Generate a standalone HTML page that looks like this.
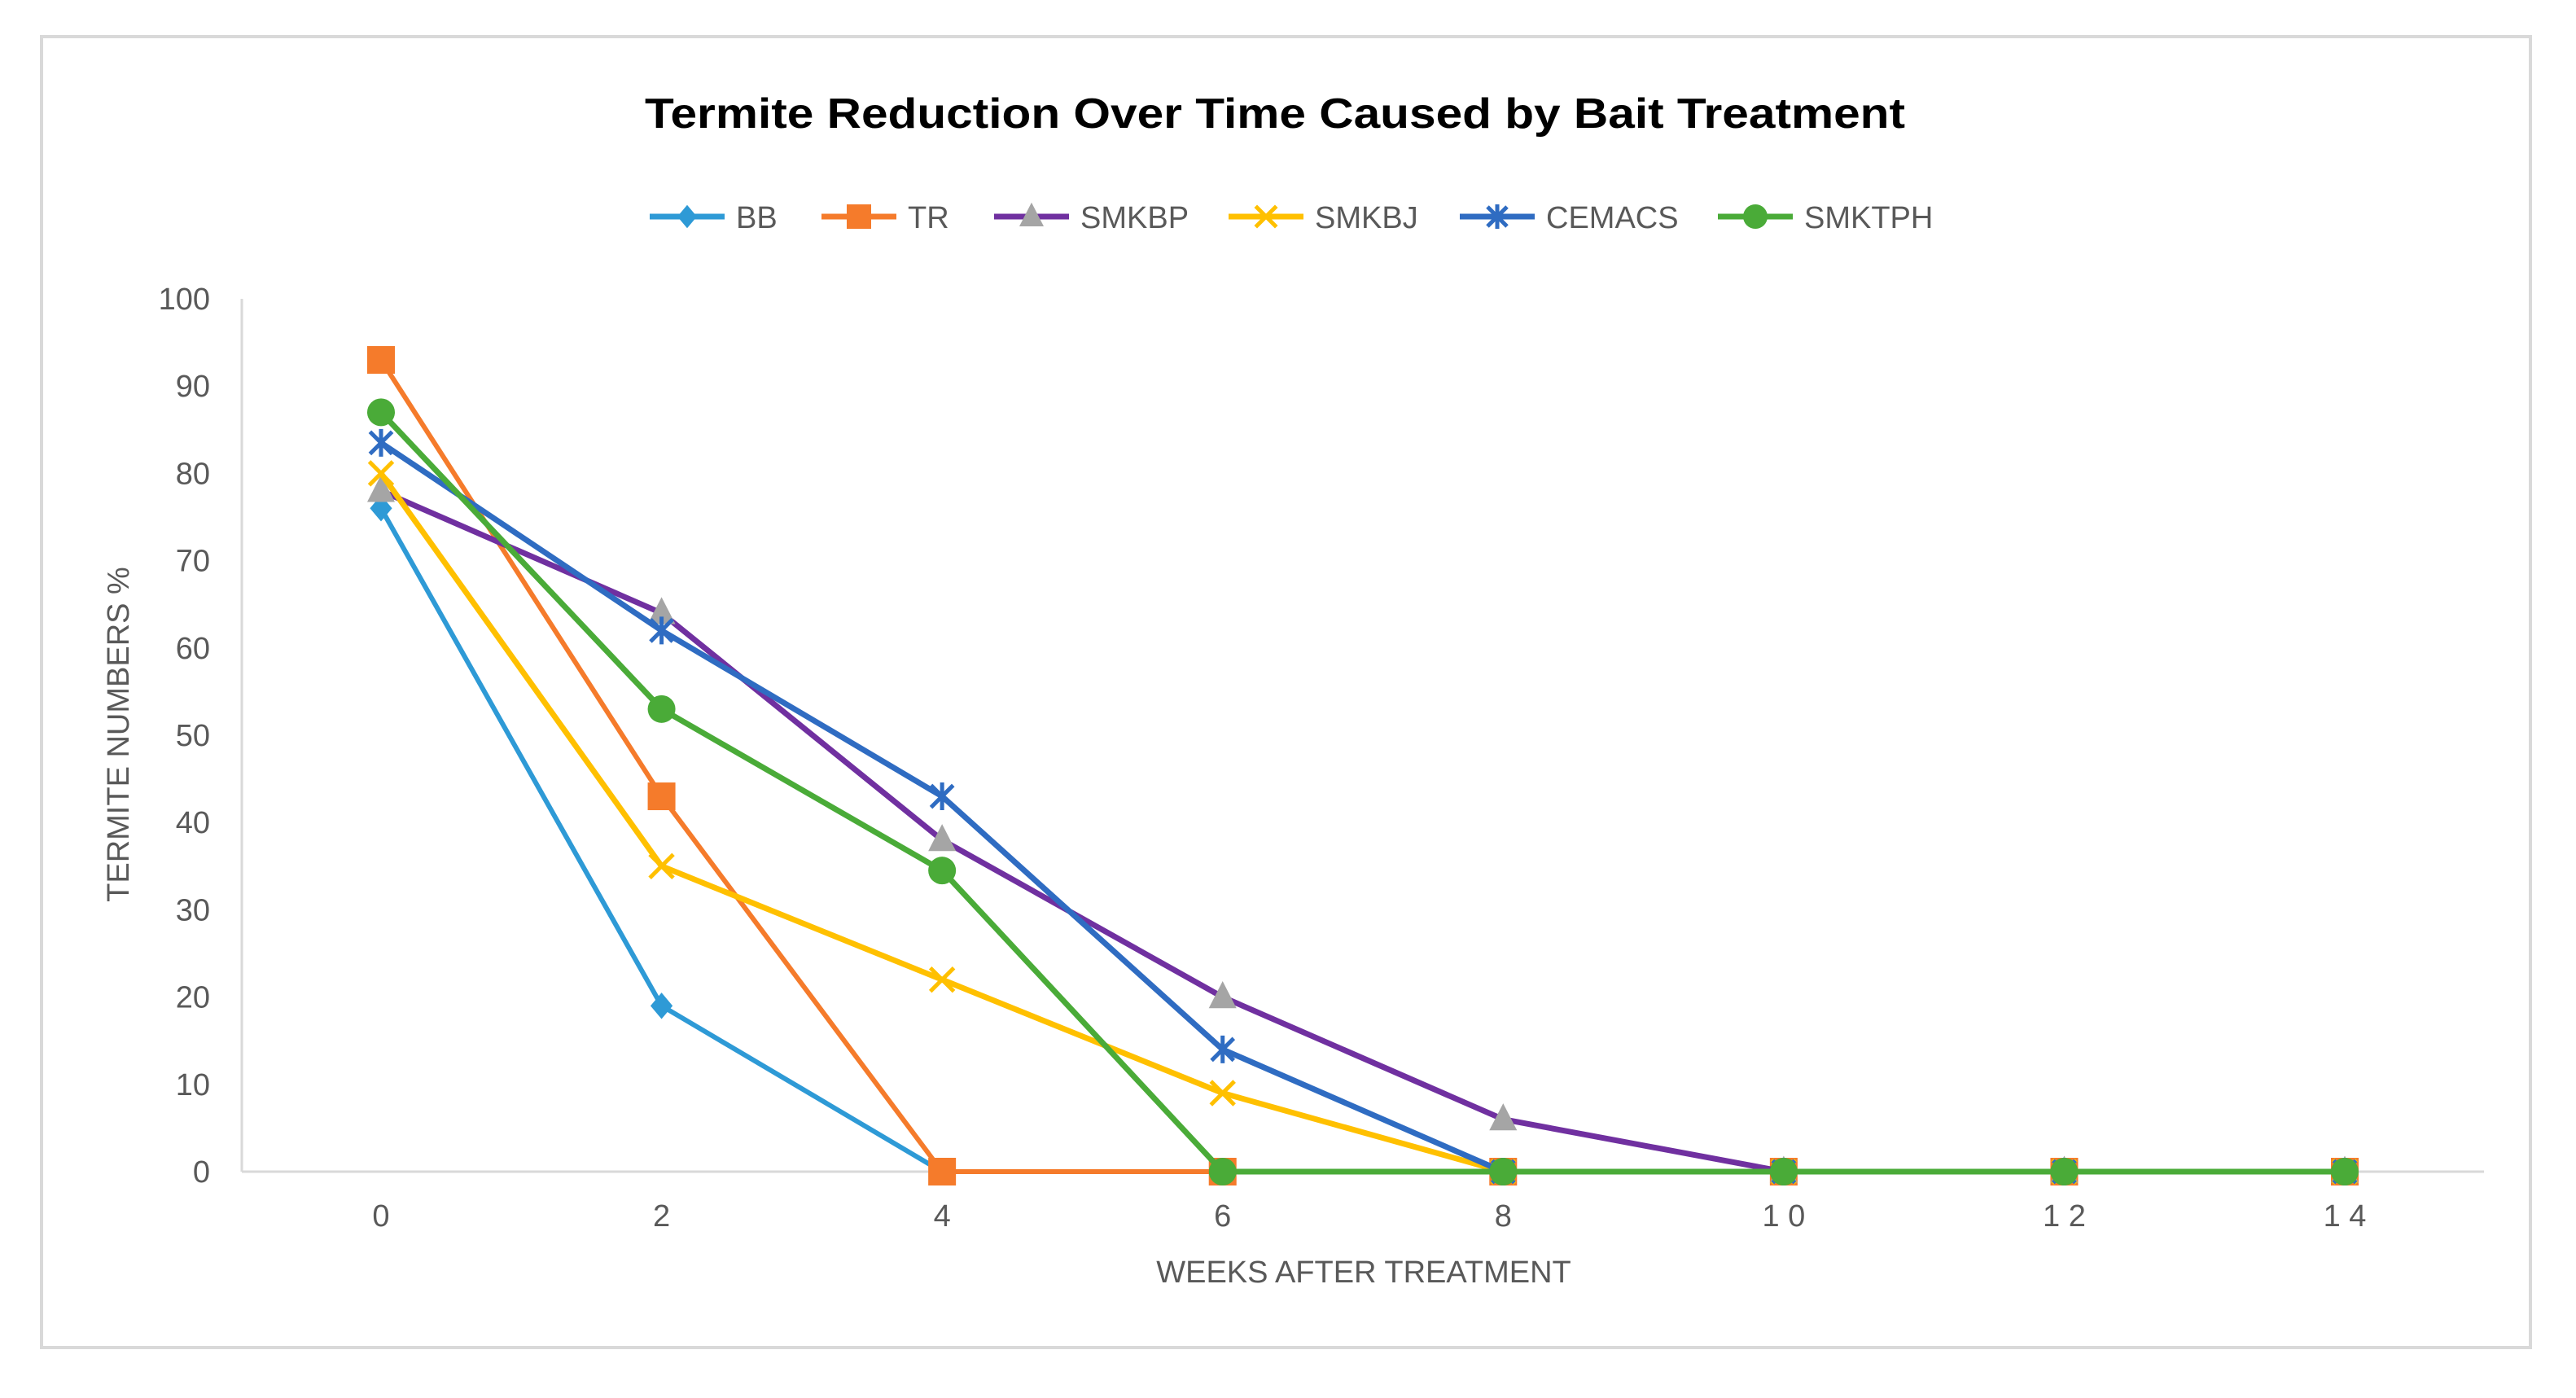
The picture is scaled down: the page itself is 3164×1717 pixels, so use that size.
<!DOCTYPE html>
<html><head><meta charset="utf-8"><style>
html,body{margin:0;padding:0;background:#fff;}
svg{display:block;font-family:"Liberation Sans",sans-serif;}
</style></head><body>
<svg id="chart" width="3164" height="1717" viewBox="0 0 3164 1717">
<rect x="51" y="45" width="3057" height="1610" fill="#fff" stroke="#d9d9d9" stroke-width="4"/>
<text x="1566" y="157" text-anchor="middle" font-size="52" font-weight="bold" fill="#000" textLength="1548" lengthAdjust="spacingAndGlyphs">Termite Reduction Over Time Caused by Bait Treatment</text>
<g id="legend"></g>
<line x1="297" y1="367" x2="297" y2="1439" stroke="#d9d9d9" stroke-width="3"/>
<g id="yticks"></g>
<g id="xticks"></g>
<text transform="translate(158,902) rotate(-90)" text-anchor="middle" font-size="38" fill="#595959">TERMITE NUMBERS %</text>
<text x="1675" y="1575" text-anchor="middle" font-size="38" fill="#595959">WEEKS AFTER TREATMENT</text>
<g id="series"></g>
</svg>
<script>
const weeks = [0, 2, 4, 6, 8, 10, 12, 14];
const yTicks = [0, 10, 20, 30, 40, 50, 60, 70, 80, 90, 100];
const seriesNames = ["BB", "TR", "SMKBP", "SMKBJ", "CEMACS", "SMKTPH"];
const bbValues = [76, 19, 0, 0, 0, 0, 0, 0];
const trValues = [93, 43, 0, 0, 0, 0, 0, 0];
const smkbpValues = [78, 64, 38, 20, 6, 0, 0, 0];
const smkbjValues = [80, 35, 22, 9, 0, 0, 0, 0];
const cemacsValues = [83.5, 62, 43, 14, 0, 0, 0, 0];
const smktphValues = [87, 53, 34.5, 0, 0, 0, 0, 0];

const NS = "http://www.w3.org/2000/svg";
const X0 = 468, X1 = 2880, Y0 = 1439, Y1 = 367;
function xs(w){ return X0 + (w - 0) / 14 * (X1 - X0); }
function ys(v){ return Y0 - v / 100 * (Y0 - Y1); }
function mk(tag, attrs, parent){ const e = document.createElementNS(NS, tag); for (const k in attrs) e.setAttribute(k, attrs[k]); parent.appendChild(e); return e; }

const styles = [
  {line:"#2e9ad6", mark:"#2e9ad6", shape:"diamond", w:6},
  {line:"#f57b2b", mark:"#f57b2b", shape:"square", w:6},
  {line:"#7030a0", mark:"#a5a5a5", shape:"triangle", w:7},
  {line:"#ffc000", mark:"#ffc000", shape:"x", w:7},
  {line:"#2f6cc2", mark:"#2f6cc2", shape:"star", w:7},
  {line:"#4aab38", mark:"#4aab38", shape:"circle", w:7}
];
const allValues = [bbValues, trValues, smkbpValues, smkbjValues, cemacsValues, smktphValues];

function marker(g, shape, cx, cy, col, s){
  let e;
  if (shape === "diamond") e = mk("polygon", {points:`${cx},${cy-s*0.95} ${cx+s*0.8},${cy} ${cx},${cy+s*0.95} ${cx-s*0.8},${cy}`, fill:col}, g);
  else if (shape === "square") e = mk("rect", {x:cx-s, y:cy-s, width:2*s, height:2*s, fill:col}, g);
  else if (shape === "triangle") e = mk("polygon", {points:`${cx},${cy-s*1.15} ${cx+s},${cy+s*0.8} ${cx-s},${cy+s*0.8}`, fill:col}, g);
  else if (shape === "circle") e = mk("circle", {cx:cx, cy:cy, r:s, fill:col}, g);
  else if (shape === "x") { e = mk("path", {d:`M${cx-s*0.85},${cy-s*0.85}L${cx+s*0.85},${cy+s*0.85}M${cx+s*0.85},${cy-s*0.85}L${cx-s*0.85},${cy+s*0.85}`, stroke:col, "stroke-width":5, fill:"none"}, g); }
  else { e = mk("path", {d:`M${cx-s*0.8},${cy-s*0.8}L${cx+s*0.8},${cy+s*0.8}M${cx+s*0.8},${cy-s*0.8}L${cx-s*0.8},${cy+s*0.8}M${cx},${cy-s}L${cx},${cy+s}`, stroke:col, "stroke-width":5, fill:"none"}, g); }
  return e;
}

const yt = document.getElementById("yticks");
yTicks.forEach(v => {
  const t = mk("text", {x:258, y:ys(v)+13, "text-anchor":"end", "font-size":38, fill:"#595959"}, yt);
  t.textContent = v;
  
  
});
const xt = document.getElementById("xticks");
const axl = mk("line", {x1:297, y1:Y0, x2:3051, y2:Y0, stroke:"#d9d9d9", "stroke-width":3}, xt);


weeks.forEach(w => {
  const t = mk("text", {x:xs(w), y:1506, "text-anchor":"middle", "font-size":38, fill:"#595959"}, xt);
  t.textContent = w >= 10 ? String(w).split("").join(" ") : w;
  
  
});

const sg = document.getElementById("series");
allValues.forEach((vals, i) => {
  const st = styles[i];
  const g = mk("g", {}, sg);
  
  
  const pts = vals.map((v, j) => `${xs(weeks[j])},${ys(v)}`).join(" ");
  const pl = mk("polyline", {points:pts, fill:"none", stroke:st.line, "stroke-width":st.w, "stroke-linejoin":"round"}, g);
  
  
  vals.forEach((v, j) => {
    const m = marker(g, st.shape, xs(weeks[j]), ys(v), st.mark, st.shape === "square" ? 17 : 17);
    
    
  });
});

const lg = document.getElementById("legend");
const legX = [798, 1009, 1221, 1509, 1793, 2110];
seriesNames.forEach((n, i) => {
  const st = styles[i];
  const g = mk("g", {}, lg);
  
  
  const x = legX[i];
  mk("line", {x1:x, y1:266, x2:x+92, y2:266, stroke:st.line, "stroke-width":7}, g);
  marker(g, st.shape, x+46, 266, st.mark, 15);
  const t = mk("text", {x:x+106, y:280, "font-size":38, fill:"#595959"}, g);
  t.textContent = n;
});
</script>
</body></html>
